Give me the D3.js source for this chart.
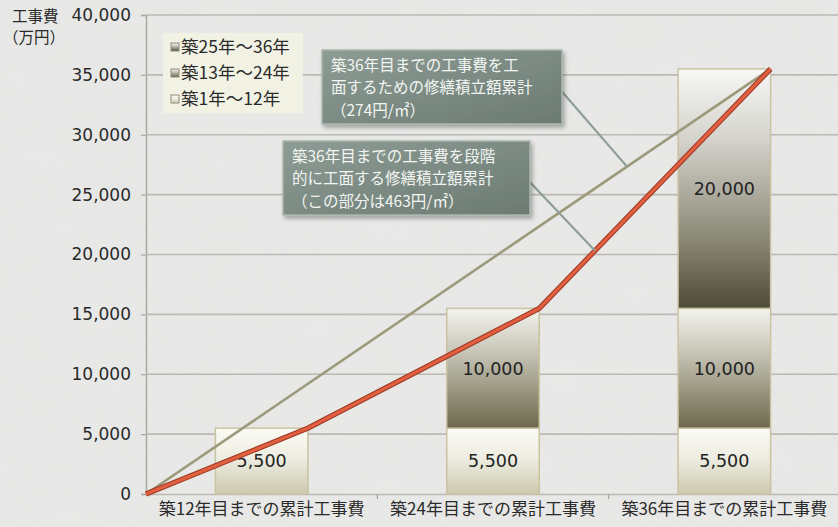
<!DOCTYPE html>
<html>
<head>
<meta charset="utf-8">
<script src="https://cdn.jsdelivr.net/npm/d3@7/dist/d3.min.js"></script>
<style>
  html, body { margin: 0; padding: 0; background: #e4e4e3; }
  svg { display: block; }
</style>
</head>
<body>
<svg id="chart" width="838" height="527"></svg>
<script>
// Cumulative construction cost (万円) by period, stacked per milestone
const categories = ["築12年目までの累計工事費", "築24年目までの累計工事費", "築36年目までの累計工事費"];
const seriesNames = ["築1年〜12年", "築13年〜24年", "築25年〜36年"];
const costYears1to12 = [5500, 5500, 5500];
const costYears13to24 = [0, 10000, 10000];
const costYears25to36 = [0, 0, 20000];
const yTicks = [0, 5000, 10000, 15000, 20000, 25000, 30000, 35000, 40000];

// Reserve accumulation lines (start, then end of each 12-year period)
const steppedReserve = [0, 5500, 15500, 35500];   // 463円/㎡ in the last period
const flatReserve = [0, 35500];                    // 274円/㎡ throughout

const callout1 = ["築36年目までの工事費を工", "面するための修繕積立額累計", "（274円/㎡）"];
const callout2 = ["築36年目までの工事費を段階", "的に工面する修繕積立額累計", "（この部分は463円/㎡）"];

const NUM_FONT = "'DejaVu Sans', 'Noto Sans CJK JP', sans-serif";
const JP_FONT = "'Noto Sans CJK JP', 'DejaVu Sans', sans-serif";

const W = 838, H = 527;
const margin = { left: 146, right: -2, top: 15, bottom: 33 };
const svg = d3.select("#chart");

const x = d3.scaleBand().domain(categories).range([margin.left, W - margin.right]).padding(0);
const bw = x.bandwidth();
const barW = bw * 0.4;
const barOff = (bw - barW) / 2;
const y = d3.scaleLinear().domain([0, 40000]).range([H - margin.bottom, margin.top]);

const defs = svg.append("defs");

// faint marbled backdrop
const noise = defs.append("filter").attr("id", "marble").attr("x", 0).attr("y", 0).attr("width", 1).attr("height", 1);
noise.append("feTurbulence").attr("type", "fractalNoise").attr("baseFrequency", "0.012 0.02").attr("numOctaves", 3).attr("seed", 7).attr("result", "n");
noise.append("feColorMatrix").attr("in", "n").attr("type", "matrix")
  .attr("values", "0 0 0 0 0.86  0 0 0 0 0.86  0 0 0 0 0.86  0 0 0 0.35 0");
svg.append("rect").attr("width", W).attr("height", H).attr("fill", "#e7e7e6");
svg.append("rect").attr("width", W).attr("height", H).attr("filter", "url(#marble)").attr("opacity", 0.5);

function vgrad(id, stops) {
  const g = defs.append("linearGradient").attr("id", id).attr("x1", 0).attr("y1", 0).attr("x2", 0).attr("y2", 1);
  stops.forEach(([o, c]) => g.append("stop").attr("offset", o).attr("stop-color", c));
}
vgrad("g1", [[0, "#fbfbf6"], [0.45, "#eeede2"], [1, "#cdc9ad"]]);
vgrad("g2", [[0, "#f4f4ef"], [0.35, "#c9c7b9"], [1, "#6d684c"]]);
vgrad("g3", [[0, "#f7f7f5"], [0.3, "#d3d2cb"], [0.7, "#8d8a78"], [1, "#4d4a37"]]);
const boxGrad = defs.append("linearGradient").attr("id", "box").attr("x1", 0).attr("y1", 0).attr("x2", 1).attr("y2", 1);
boxGrad.append("stop").attr("offset", 0).attr("stop-color", "#8d9c94");
boxGrad.append("stop").attr("offset", 1).attr("stop-color", "#6b7b73");
const shadow = defs.append("filter").attr("id", "shadow").attr("x", "-10%").attr("y", "-10%").attr("width", "130%").attr("height", "140%");
shadow.append("feDropShadow").attr("dx", 2).attr("dy", 3).attr("stdDeviation", 2).attr("flood-color", "#000").attr("flood-opacity", 0.3);

// gridlines and y axis
const yAxis = d3.axisLeft(y).tickValues(yTicks).tickSize(5).tickPadding(10)
  .tickFormat(d => d3.format(",")(d));
const gy = svg.append("g").attr("transform", `translate(${margin.left},0)`).call(yAxis);
gy.select(".domain").attr("stroke", "#a9a6a2").attr("stroke-width", 1.5);
gy.selectAll(".tick line").attr("stroke", "#a9a6a2").attr("stroke-width", 1.2);
gy.selectAll(".tick text").attr("font-size", 17).attr("fill", "#2a2a2a")
  .style("font-family", NUM_FONT);

svg.append("g").selectAll("line").data(yTicks.filter(d => d > 0)).join("line")
  .attr("x1", margin.left).attr("x2", W).attr("y1", d => y(d)).attr("y2", d => y(d))
  .attr("stroke", "#bcb8b3").attr("stroke-width", 1.6);

// x axis
const xAxis = d3.axisBottom(x).tickSize(0).tickPadding(9);
const gx = svg.append("g").attr("transform", `translate(0,${y(0)})`).call(xAxis);
gx.select(".domain").attr("stroke", "#bcb8b3").attr("stroke-width", 1.6);
gx.selectAll(".tick text").attr("font-size", 17).attr("fill", "#2a2a2a")
  .style("font-family", JP_FONT);
svg.append("g").selectAll("line").data(categories.slice(1)).join("line")
  .attr("x1", d => x(d)).attr("x2", d => x(d)).attr("y1", y(0)).attr("y2", y(0) + 5)
  .attr("stroke", "#a9a6a2").attr("stroke-width", 1.2);

// stacked bars
const rows = categories.map((c, i) => ({ cat: c, s1: costYears1to12[i], s2: costYears13to24[i], s3: costYears25to36[i] }));
const stack = d3.stack().keys(["s1", "s2", "s3"])(rows);
const fills = ["url(#g1)", "url(#g2)", "url(#g3)"];
stack.forEach((layer, li) => {
  const g = svg.append("g");
  layer.forEach(seg => {
    const v = seg[1] - seg[0];
    if (v <= 0) return;
    g.append("rect")
      .attr("x", x(seg.data.cat) + barOff).attr("width", barW)
      .attr("y", y(seg[1])).attr("height", y(seg[0]) - y(seg[1]))
      .attr("fill", fills[li]).attr("stroke", "#c8c3a0").attr("stroke-width", 1.5);
    g.append("text")
      .attr("x", x(seg.data.cat) + bw / 2).attr("y", (y(seg[0]) + y(seg[1])) / 2)
      .attr("dy", "0.36em").attr("text-anchor", "middle")
      .attr("font-size", 17.5).attr("fill", "#222").style("font-family", NUM_FONT)
      .text(d3.format(",")(v));
  });
});

// reserve lines: start at the axis, then the right edge of each bar
const flatPts = [[x.range()[0], y(flatReserve[0])], [x(categories[2]) + barOff + barW, y(flatReserve[1])]];
const stepPts = steppedReserve.map((v, i) => [i === 0 ? x.range()[0] : x(categories[i - 1]) + barOff + barW, y(v)]);
const line = d3.line();
svg.append("path").attr("d", line(flatPts)).attr("fill", "none").attr("stroke", "#9c9a7b").attr("stroke-width", 2.6);
svg.append("path").attr("d", line(stepPts)).attr("fill", "none").attr("stroke", "#9d3a26").attr("stroke-width", 5.2).attr("stroke-linejoin", "round");
svg.append("path").attr("d", line(stepPts)).attr("fill", "none").attr("stroke", "#e2603f").attr("stroke-width", 3).attr("stroke-linejoin", "round");

// callouts with leader lines onto each reserve line
function pointOn(pts, px) {
  for (let i = 1; i < pts.length; i++) {
    const [x0, y0] = pts[i - 1], [x1, y1] = pts[i];
    if (px >= x0 && px <= x1) return y0 + (y1 - y0) * (px - x0) / (x1 - x0);
  }
  return pts[pts.length - 1][1];
}
function callout(bx, by, bwid, bht, lines, tx, anchorX, pts) {
  const g = svg.append("g");
  g.append("line").attr("x1", bx + bwid - 4).attr("y1", by + bht / 2)
    .attr("x2", anchorX).attr("y2", pointOn(pts, anchorX))
    .attr("stroke", "#8e9e97").attr("stroke-width", 2.2);
  g.append("rect").attr("x", bx).attr("y", by).attr("width", bwid).attr("height", bht)
    .attr("fill", "url(#box)").attr("stroke", "#aab6af").attr("stroke-width", 1.5)
    .attr("filter", "url(#shadow)");
  lines.forEach((s, i) => g.append("text")
    .attr("x", tx).attr("y", by + 15 + i * 22.5).attr("dy", "0.36em")
    .attr("font-size", 15.5).attr("fill", "#f3f5f3").style("font-family", JP_FONT).text(s));
}
callout(322, 50, 240, 74, callout1, 331, 627, flatPts);
callout(283, 141, 247, 74, callout2, 292, 595, stepPts);

// legend
const lg = svg.append("g");
lg.append("rect").attr("x", 163).attr("y", 33).attr("width", 140).attr("height", 80).attr("fill", "#f2f2e4");
const legendFills = ["url(#g1)", "url(#g2)", "url(#g3)"];
const legendOrder = [2, 1, 0];
legendOrder.forEach((si, i) => {
  const cy = 47 + i * 26;
  lg.append("rect").attr("x", 171).attr("y", cy - 4).attr("width", 8).attr("height", 8)
    .attr("fill", legendFills[si]).attr("stroke", "#8f8c7c").attr("stroke-width", 1);
  lg.append("text").attr("x", 181).attr("y", cy).attr("dy", "0.36em")
    .attr("font-size", 17.5).attr("fill", "#2a2a2a").style("font-family", JP_FONT).text(seriesNames[si]);
});

// unit label
svg.append("text").attr("x", 12).attr("y", 16).attr("dy", "0.36em")
  .attr("font-size", 15.5).attr("fill", "#2a2a2a").style("font-family", JP_FONT).text("工事費");
svg.append("text").attr("x", 3).attr("y", 37).attr("dy", "0.36em")
  .attr("font-size", 15.5).attr("fill", "#2a2a2a").style("font-family", JP_FONT).text("（万円）");
</script>
</body>
</html>
